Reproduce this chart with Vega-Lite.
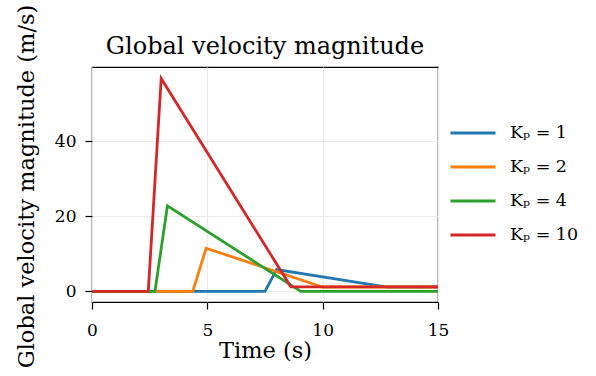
{
  "$schema": "https://vega.github.io/schema/vega-lite/v6.json",
  "width": 346,
  "height": 235,
  "autosize": "none",
  "padding": {"left": 92, "top": 67, "right": 158, "bottom": 74},
  "background": "white",
  "title": {"text": "Global velocity magnitude", "font": "DejaVu Serif", "fontSize": 24, "fontWeight": "normal", "color": "black", "offset": 13, "baseline": "alphabetic", "dy": 87},
  "config": {
    "font": "DejaVu Serif",
    "view": {"stroke": "black", "strokeWidth": 1.2},
    "axis": {"labelFont": "DejaVu Serif", "titleFont": "DejaVu Serif", "labelFontSize": 17, "titleFontSize": 22.5, "titleFontWeight": "normal", "labelColor": "black", "titleColor": "black", "tickColor": "black", "tickWidth": 1.2, "domainColor": "black", "tickSize": 7, "gridColor": "#ebebeb", "gridWidth": 1.2, "domain": false}
  },
  "data": {"values": [
    {"t": 0, "v": 0, "s": "Kₚ = 1"},
    {"t": 7.5, "v": 0, "s": "Kₚ = 1"},
    {"t": 8.0, "v": 5.8, "s": "Kₚ = 1"},
    {"t": 12.8, "v": 1.15, "s": "Kₚ = 1"},
    {"t": 15, "v": 1.15, "s": "Kₚ = 1"},
    {"t": 0, "v": 0, "s": "Kₚ = 2"},
    {"t": 4.37, "v": 0, "s": "Kₚ = 2"},
    {"t": 4.95, "v": 11.5, "s": "Kₚ = 2"},
    {"t": 10.0, "v": 1.15, "s": "Kₚ = 2"},
    {"t": 15, "v": 1.15, "s": "Kₚ = 2"},
    {"t": 0, "v": 0, "s": "Kₚ = 4"},
    {"t": 2.73, "v": 0, "s": "Kₚ = 4"},
    {"t": 3.27, "v": 22.8, "s": "Kₚ = 4"},
    {"t": 9.05, "v": 0, "s": "Kₚ = 4"},
    {"t": 15, "v": 0, "s": "Kₚ = 4"},
    {"t": 0, "v": 0, "s": "Kₚ = 10"},
    {"t": 2.44, "v": 0, "s": "Kₚ = 10"},
    {"t": 3.0, "v": 56.8, "s": "Kₚ = 10"},
    {"t": 8.62, "v": 1.2, "s": "Kₚ = 10"},
    {"t": 15, "v": 1.2, "s": "Kₚ = 10"}
  ]},
  "mark": {"type": "line", "strokeWidth": 2.8, "clip": true},
  "encoding": {
    "x": {"field": "t", "type": "quantitative", "title": "Time (s)", "scale": {"domain": [0, 15], "nice": false, "zero": false},
      "axis": {"values": [0, 5, 10, 15], "format": "d", "labelFlush": false, "labelBaseline": "alphabetic", "labelPadding": 26, "titleBaseline": "alphabetic", "titleY": 55, "titleX": 173}},
    "y": {"field": "v", "type": "quantitative", "title": "Global velocity magnitude (m/s)", "scale": {"domain": [-2.85, 59.85], "nice": false, "zero": false},
      "axis": {"values": [0, 20, 40], "format": "d", "labelPadding": 9, "titleAngle": -90, "titleBaseline": "alphabetic", "titleAlign": "center", "titleX": -59, "titleY": 119}},
    "color": {"field": "s", "type": "nominal", "sort": ["Kₚ = 1", "Kₚ = 2", "Kₚ = 4", "Kₚ = 10"],
      "scale": {"range": ["#1f77b4", "#ff7f0e", "#2ca02c", "#d62728"]},
      "legend": {"title": null, "orient": "none", "legendX": 357, "legendY": 42, "symbolType": "stroke", "symbolSize": 2025, "symbolStrokeWidth": 3, "labelFont": "DejaVu Serif", "labelFontSize": 17.5, "labelColor": "black", "rowPadding": 1, "labelOffset": 13}
    },
    "order": {"field": "s"}
  }
}
